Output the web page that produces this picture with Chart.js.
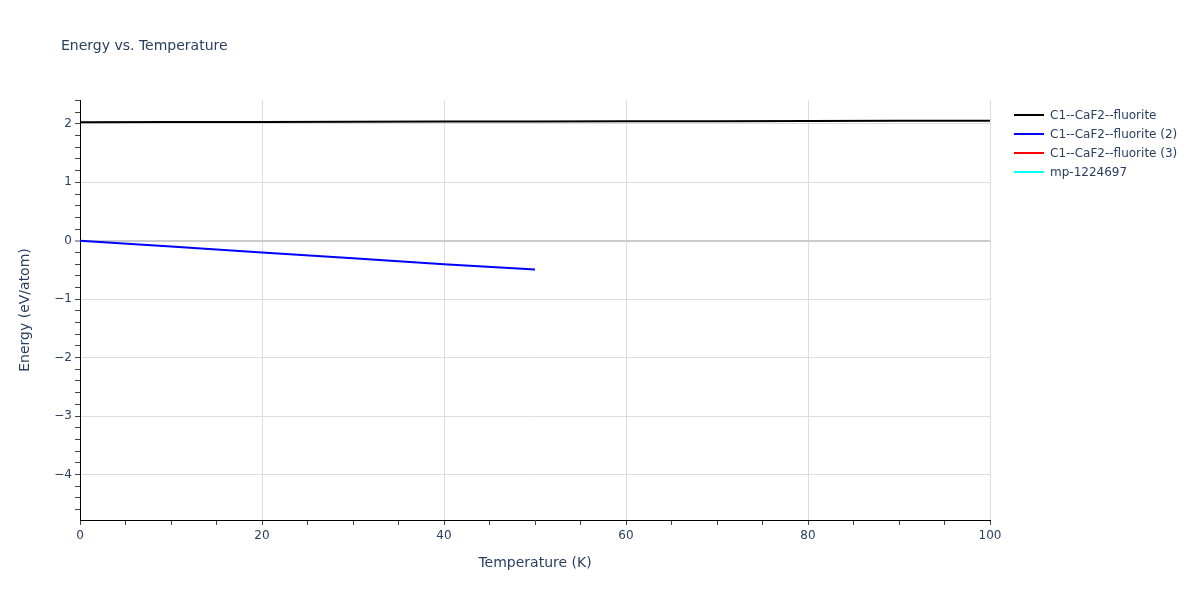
<!DOCTYPE html>
<html>
<head>
<meta charset="utf-8">
<script src="https://cdn.jsdelivr.net/npm/chart.js@4"></script>
<style>
  html, body { margin:0; padding:0; background:#fff; }
  #wrap { position:relative; width:1200px; height:600px; font-family:"DejaVu Sans", Verdana, sans-serif; }
  #title { position:absolute; left:61px; top:37px; font-size:14px; line-height:17px; color:#2a3f5f; }
  #legend { position:absolute; left:1014px; top:105px; font-size:12px; color:#2a3f5f; }
  .li { height:19px; display:flex; align-items:center; }
  .sw { width:30px; height:2px; margin-right:6px; }
</style>
</head>
<body>
<div id="wrap">
  <canvas id="c" width="1200" height="600"></canvas>
  <div id="title">Energy vs. Temperature</div>
  <div id="legend"></div>
</div>
<script>
// ---- data ----
const seriesNames = ["C1--CaF2--fluorite", "C1--CaF2--fluorite (2)", "C1--CaF2--fluorite (3)", "mp-1224697"];
const seriesColors = ["#000000", "#0000ff", "#ff0000", "#00ffff"];
const tempsA = [0, 10, 20, 30, 40, 50, 60, 70, 80, 90, 100];
const energyA = [2.030, 2.032, 2.035, 2.037, 2.040, 2.043, 2.045, 2.048, 2.050, 2.053, 2.056];
const tempsB = [0, 10, 20, 30, 40, 50];
const energyB = [0, -0.10, -0.20, -0.30, -0.40, -0.49];
const tempsC = [];
const energyC = [];
const tempsD = [];
const energyD = [];
const xTickLabels = [0, 20, 40, 60, 80, 100];
const yTickLabels = [-4, -3, -2, -1, 0, 1, 2];

const pts = (xs, ys) => xs.map((x, i) => ({x: x, y: ys[i]}));
const allSeries = [pts(tempsA, energyA), pts(tempsB, energyB), pts(tempsC, energyC), pts(tempsD, energyD)];

const datasets = allSeries.map((d, i) => ({
  label: seriesNames[i], data: d, borderColor: seriesColors[i], backgroundColor: seriesColors[i],
  borderWidth: 2, pointRadius: 0, tension: 0, fill: false
}));

const FAM = "'DejaVu Sans', Verdana, sans-serif";
const fmt = v => (v < 0 ? "\u2212" + Math.abs(v) : String(v));
const isInt = v => Math.abs(v - Math.round(v)) < 1e-6;
const font = {family: FAM, size: 12};

new Chart(document.getElementById('c'), {
  type: 'line',
  data: {datasets},
  options: {
    responsive: false, animation: false, devicePixelRatio: 1,
    layout: {padding: {left: 0, right: 210, top: 100, bottom: 0}},
    plugins: {legend: {display: false}, title: {display: false}, tooltip: {enabled: false}},
    scales: {
      x: {
        type: 'linear', min: 0, max: 100,
        afterFit: s => { s.height = 80; },
        ticks: {stepSize: 5, autoSkip: false, maxRotation: 0, color: '#2a3f5f', font, padding: 4,
          callback: v => (xTickLabels.includes(v) ? fmt(v) : '')},
        grid: {
          drawTicks: true, tickLength: 5, tickWidth: 1,
          color: c => (c.tick && xTickLabels.includes(c.tick.value) && c.tick.value !== 0 ? '#dddddd' : 'rgba(0,0,0,0)'),
          tickColor: '#444'
        },
        border: {display: true, color: '#000', width: 1},
        title: {display: true, text: 'Temperature (K)', color: '#2a3f5f', font: {family: FAM, size: 14}, padding: {top: 12, bottom: 28}}
      },
      y: {
        type: 'linear', min: -4.78, max: 2.41,
        afterFit: s => { s.width = 80; },
        afterBuildTicks: s => {
          const t = [];
          for (let k = Math.ceil(s.min / 0.2); k <= Math.floor(s.max / 0.2); k++) t.push({value: Math.round(k * 2) / 10});
          s.ticks = t;
        },
        ticks: {autoSkip: false, color: '#2a3f5f', font, padding: 3,
          callback: v => (isInt(v) && yTickLabels.includes(Math.round(v)) ? fmt(Math.round(v)) : '')},
        grid: {
          drawTicks: true, tickLength: 5, tickWidth: 1,
          color: c => (c.tick && isInt(c.tick.value) ? (Math.abs(c.tick.value) < 1e-6 ? '#cccccc' : '#dddddd') : 'rgba(0,0,0,0)'),
          lineWidth: c => (c.tick && Math.abs(c.tick.value) < 1e-6 ? 2 : 1),
          tickColor: '#444'
        },
        border: {display: true, color: '#000', width: 1},
        title: {display: true, text: 'Energy (eV/atom)', color: '#2a3f5f', font: {family: FAM, size: 14}, padding: {top: 17, bottom: 0}}
      }
    }
  }
});

const lg = document.getElementById('legend');
seriesNames.forEach((n, i) => {
  const row = document.createElement('div'); row.className = 'li';
  const sw = document.createElement('div'); sw.className = 'sw'; sw.style.background = seriesColors[i];
  const tx = document.createElement('span'); tx.textContent = n;
  row.appendChild(sw); row.appendChild(tx); lg.appendChild(row);
});
</script>
</body>
</html>
